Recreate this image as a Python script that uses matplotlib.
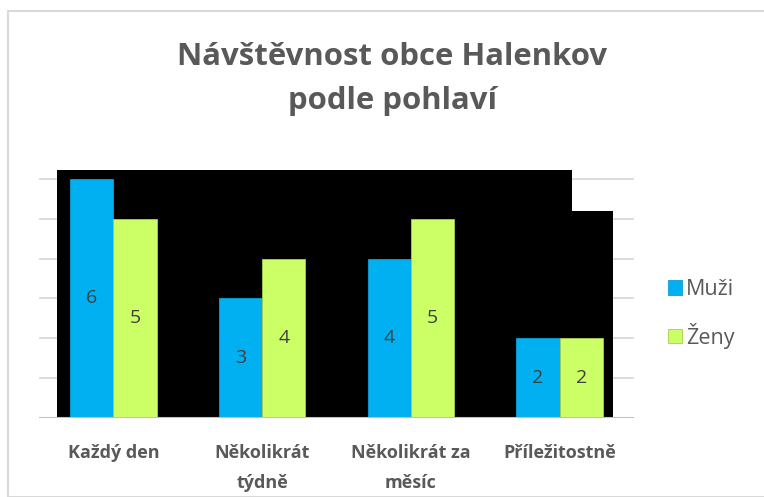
import matplotlib
matplotlib.use("Agg")
import matplotlib.pyplot as plt
import numpy as np
from matplotlib.patches import Polygon, Rectangle

categories = ["Každý den", "Několikrát\ntýdně", "Několikrát za\nměsíc", "Příležitostně"]
muzi = [6, 3, 4, 2]
zeny = [5, 4, 5, 2]
series_names = ["Muži", "Ženy"]
title = "Návštěvnost obce Halenkov\npodle pohlaví"

plt.rcParams['font.family'] = ['Open Sans', 'DejaVu Sans']

W, H = 764, 497
fig = plt.figure(figsize=(W / 100, H / 100), dpi=100)
fig.patch.set_facecolor("white")

# chart border
fig.add_artist(Rectangle((8 / W, 0), 1.0, 1 - 11 / H, transform=fig.transFigure,
                         fill=False, edgecolor="#d9d9d9", linewidth=1.5))

ax_left, ax_right = 39, 634
ax_bottom, ax_top = 418, 169
ax = fig.add_axes([ax_left / W, (H - ax_bottom) / H, (ax_right - ax_left) / W, (ax_bottom - ax_top) / H])
ax.set_facecolor("none")

x = np.arange(len(categories))
bw = 0.29
ax.set_xlim(-0.5, len(categories) - 0.5)
ax.set_ylim(0, 6.25)

# gridlines
for v in range(1, 7):
    ax.axhline(v, color="#d9d9d9", linewidth=1.3, zorder=0)
ax.axhline(0, color="#bfbfbf", linewidth=1.5, zorder=5)

# black background shape
black_shape = [(-0.376, 0), (-0.376, 6.23), (3.08, 6.23), (3.08, 5.2), (3.36, 5.2), (3.36, 0)]
ax.add_patch(Polygon(black_shape, closed=True, facecolor="black", edgecolor="none", zorder=1))

b1 = ax.bar(x - bw / 2, muzi, bw, color="#00B0F0", edgecolor="#0aa0d8", linewidth=0.6, zorder=3, label=series_names[0])
b2 = ax.bar(x + bw / 2, zeny, bw, color="#CCFF66", edgecolor="#a8cc50", linewidth=0.6, zorder=3, label=series_names[1])

for bars, vals in ((b1, muzi), (b2, zeny)):
    for r, v in zip(bars, vals):
        ax.text(r.get_x() + r.get_width() / 2, v / 2, str(v), ha="center", va="center",
                fontsize=14, color="#404040", zorder=6)

for s in ax.spines.values():
    s.set_visible(False)
ax.set_yticks([])
ax.set_xticks(x)
ax.set_xticklabels(categories, fontsize=13, fontweight="bold", color="#595959", linespacing=1.8)
ax.tick_params(axis="x", length=0, pad=19)

fig.text(392 / W, 1 - 79 / H, title, ha="center", va="center", fontsize=22.4, fontweight="bold",
         color="#595959", linespacing=1.6)

leg = fig.legend(handles=[b1, b2], labels=series_names, loc="center left",
                 bbox_to_anchor=(668 / W, 1 - 314 / H), frameon=False, fontsize=15.5,
                 borderaxespad=0, borderpad=0,
                 handlelength=0.65, handleheight=0.65, handletextpad=0.2, labelspacing=1.05)
for t in leg.get_texts():
    t.set_color("#595959")

fig.savefig("out.png", dpi=100)
